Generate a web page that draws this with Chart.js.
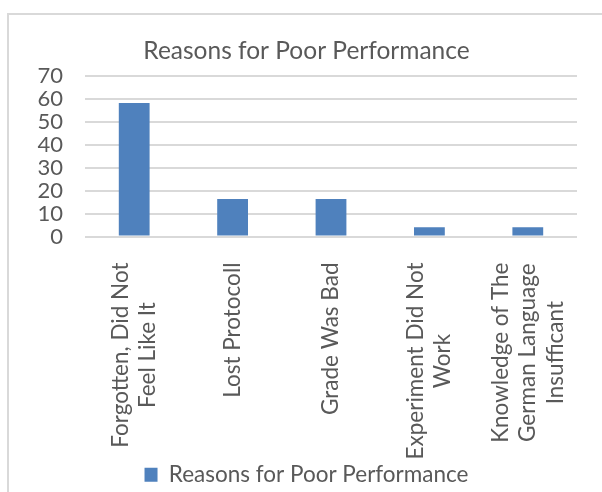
<!DOCTYPE html>
<html>
<head>
<meta charset="utf-8">
<script src="https://cdn.jsdelivr.net/npm/chart.js@4.4.1/dist/chart.umd.min.js"></script>
<style>
  html, body { margin: 0; padding: 0; background: #ffffff; }
  #wrap { position: relative; width: 602px; height: 492px; overflow: hidden; background: #fff; }
  #frame { position: absolute; left: 7px; top: 13px; width: 600px; height: 500px;
           border-left: 2px solid #d9d9d9; border-top: 2px solid #d9d9d9; box-sizing: border-box; }
  canvas { position: absolute; left: 0; top: 0; }
</style>
</head>
<body>
<div id="wrap">
  <div id="frame"></div>
  <canvas id="c" width="602" height="496"></canvas>
</div>
<script>
const chartTitle = "Reasons for Poor Performance";
const seriesName = "Reasons for Poor Performance";
const categories = [
  ["Forgotten, Did Not", "Feel Like It"],
  "Lost Protocoll",
  "Grade Was Bad",
  ["Experiment Did Not", "Work"],
  ["Knowledge of The", "German Language", "Insufficant"]
];
const values = [58.2, 16.4, 16.4, 4.0, 4.0];
const yMin = 0, yMax = 70, yStep = 10;

const textColor = "#595959";
const fontFamily = "Lato, 'Open Sans', sans-serif";
const catFontSize = 22.5;
const catLineHeight = 27.5;
const catPadding = 26;

// Category labels: rotated 90°, lines centred on each other and on the scale's tick
const rotatedCategoryLabels = {
  id: "rotatedCategoryLabels",
  afterDraw(chart) {
    const sc = chart.scales.x;
    const ctx = chart.ctx;
    ctx.save();
    ctx.font = catFontSize + "px " + fontFamily;
    ctx.fillStyle = textColor;
    ctx.textAlign = "center";
    ctx.textBaseline = "middle";
    sc.ticks.forEach((tick, i) => {
      const lab = chart.data.labels[i];
      const lines = Array.isArray(lab) ? lab : [lab];
      const w = Math.max(...lines.map(l => ctx.measureText(l).width));
      const x = sc.getPixelForTick(i);
      const y = sc.top + catPadding + w / 2;
      ctx.save();
      ctx.translate(x, y);
      ctx.rotate(-Math.PI / 2);
      lines.forEach((ln, j) => {
        ctx.fillText(ln, 0, (j - (lines.length - 1) / 2) * catLineHeight);
      });
      ctx.restore();
    });
    ctx.restore();
  }
};

new Chart(document.getElementById("c"), {
  type: "bar",
  data: {
    labels: categories,
    datasets: [{
      label: seriesName,
      data: values,
      backgroundColor: "#4f81bd",
      borderWidth: 0,
      categoryPercentage: 1,
      barPercentage: 0.313
    }]
  },
  plugins: [rotatedCategoryLabels],
  options: {
    responsive: false,
    animation: false,
    devicePixelRatio: 1,
    layout: { padding: { left: 36, right: 25, top: 0, bottom: 0 } },
    plugins: {
      title: {
        display: true,
        text: chartTitle,
        color: textColor,
        font: { family: fontFamily, size: 24.5, weight: "normal" },
        padding: { top: 36, bottom: 10.6 }
      },
      legend: {
        position: "bottom",
        labels: {
          color: textColor,
          font: { family: fontFamily, size: 22.5 },
          boxWidth: 13,
          boxHeight: 14,
          padding: 6
        }
      },
      tooltip: { enabled: false }
    },
    scales: {
      x: {
        grid: { display: false, drawTicks: false },
        border: { display: false },
        ticks: { display: false, autoSkip: false },
        afterFit: (s) => { s.height = 221; s.paddingLeft = 0; s.paddingRight = 0; }
      },
      y: {
        min: yMin,
        max: yMax,
        grid: { color: "#d9d9d9", lineWidth: 2, drawTicks: false },
        border: { display: false },
        ticks: {
          stepSize: yStep,
          count: (yMax - yMin) / yStep + 1,
          autoSkip: false,
          color: textColor,
          font: { family: fontFamily, size: 22, lineHeight: 1 },
          padding: 22
        },
        afterFit: (s) => { s.width = 49; s.paddingTop = 0; s.paddingBottom = 0; }
      }
    }
  }
});
</script>
</body>
</html>
